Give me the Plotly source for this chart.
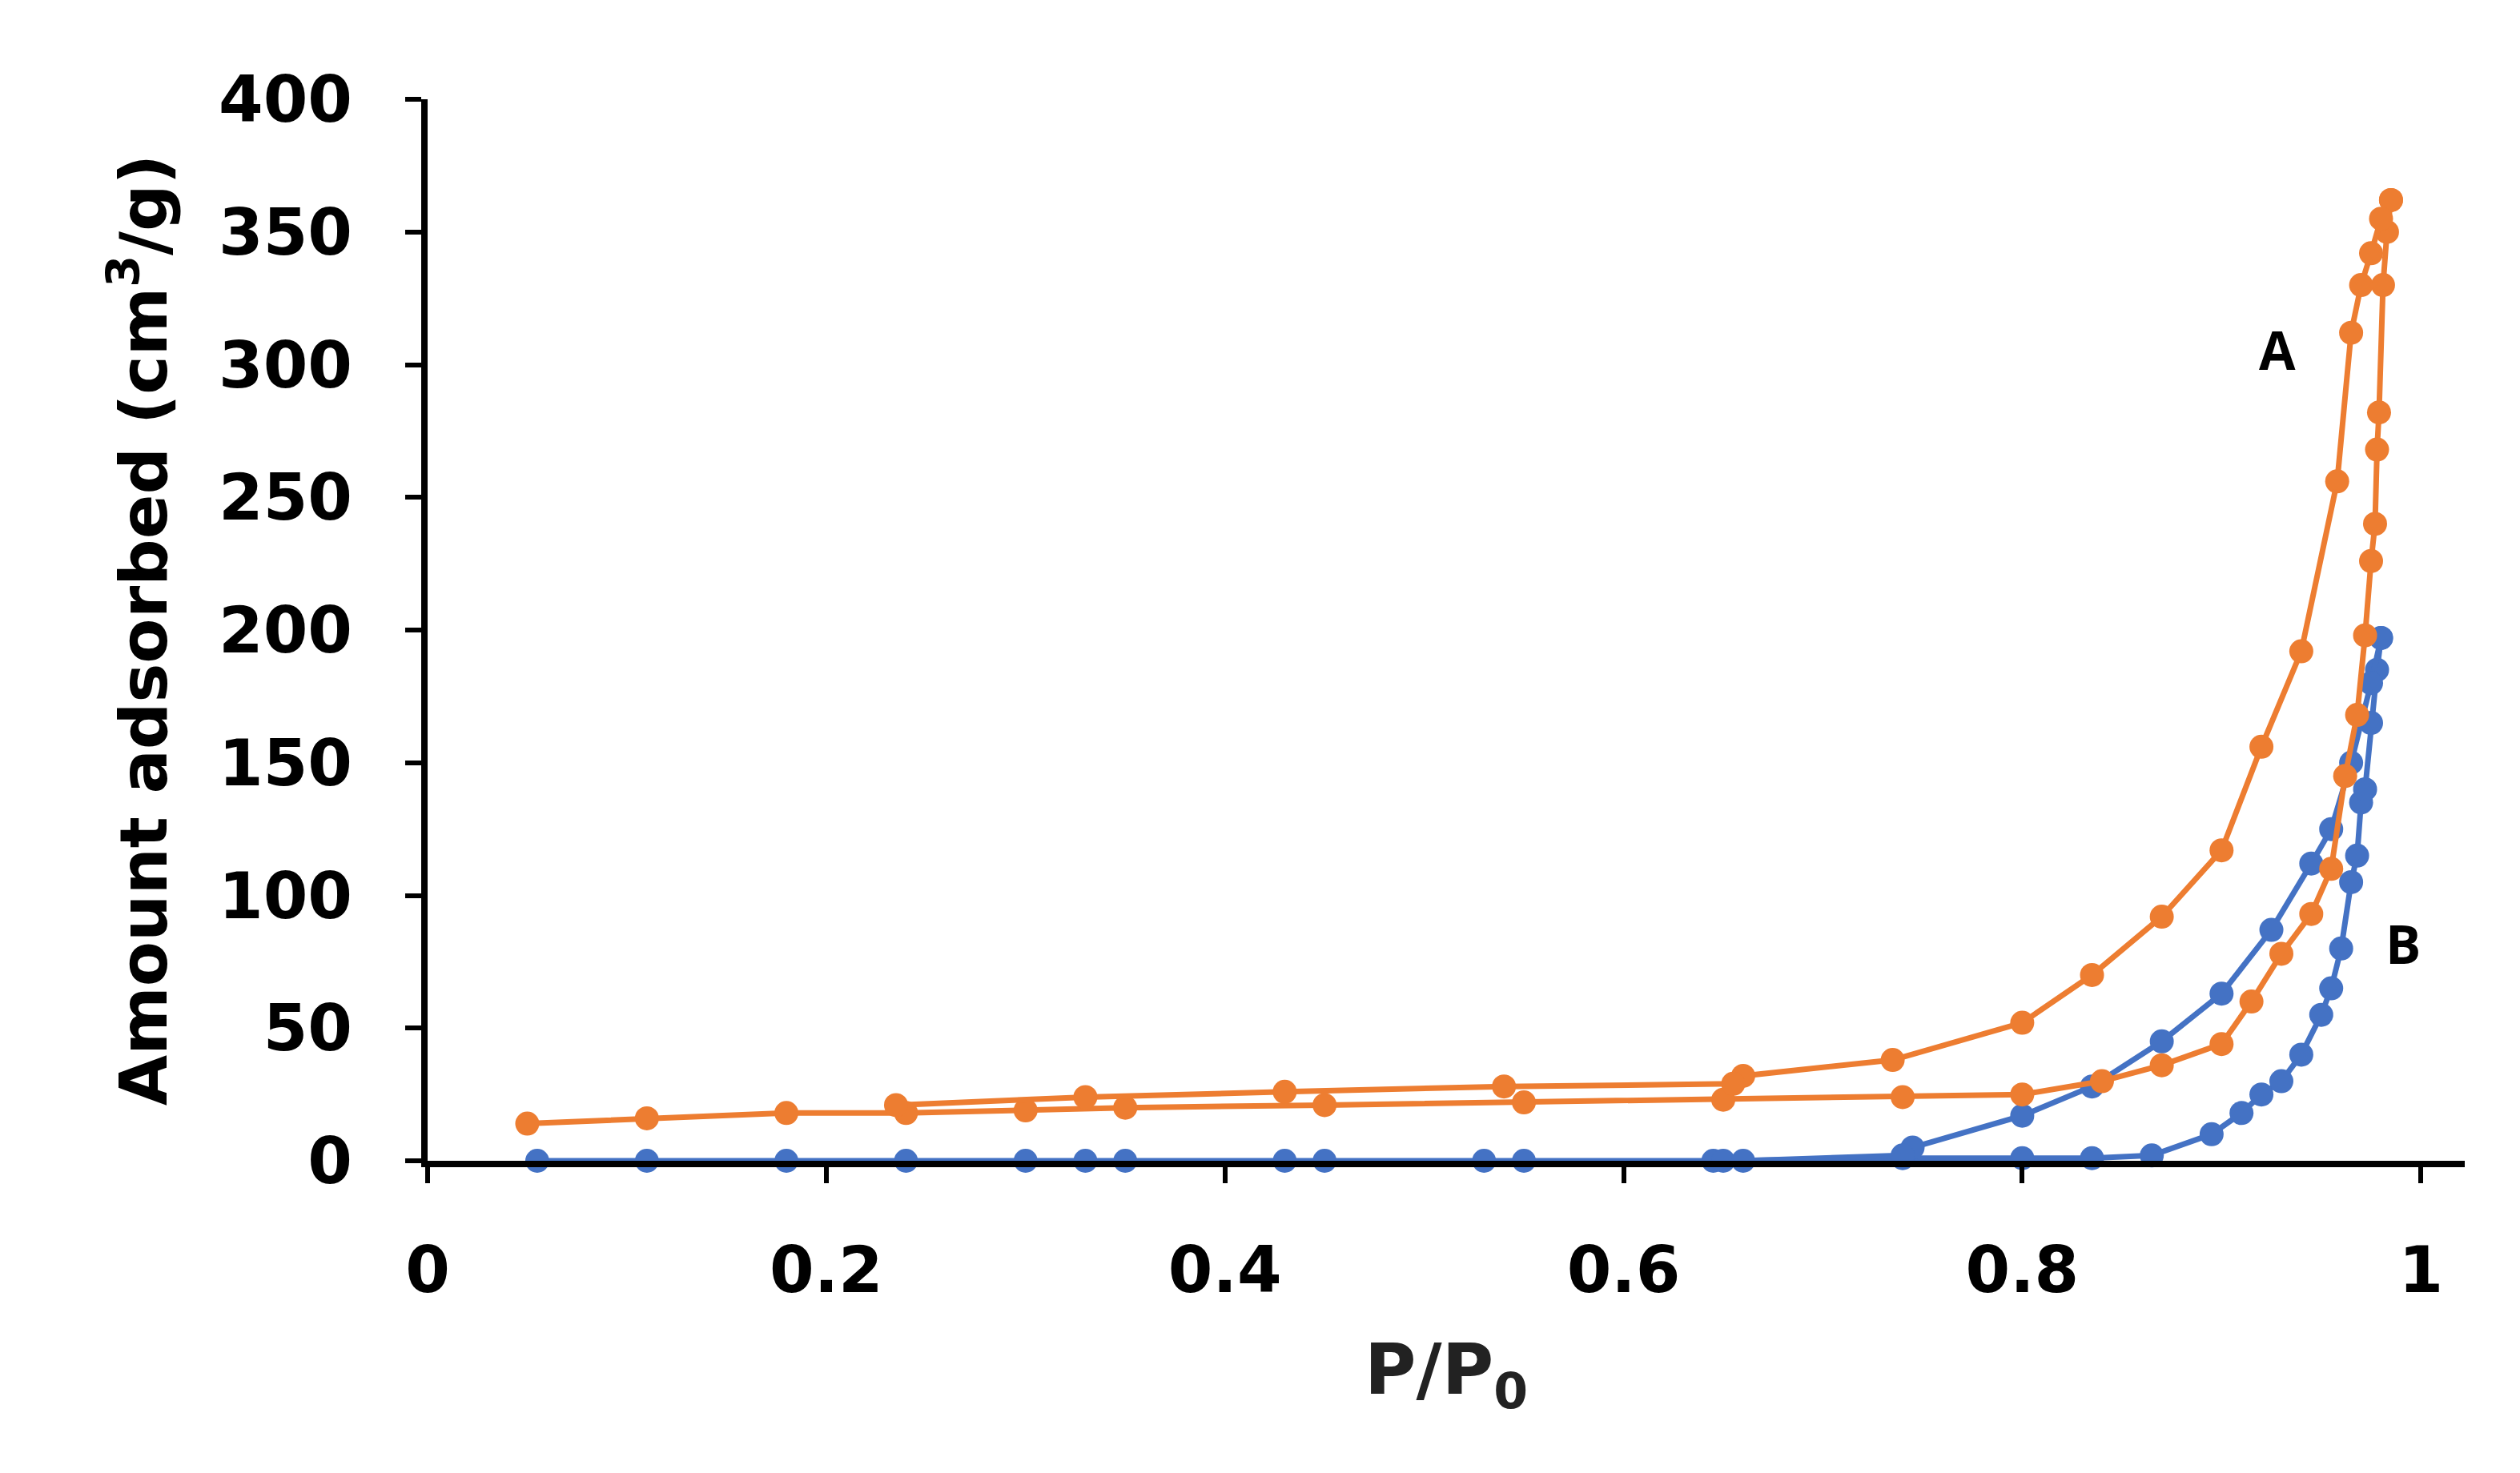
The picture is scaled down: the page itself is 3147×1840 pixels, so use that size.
import plotly.graph_objects as go

a_ads_x = [0.05,0.11,0.18,0.24,0.30,0.35,0.45,0.55,0.65,0.74,0.80,0.84,0.87,0.90,0.915,0.93,0.945,0.955,0.962,0.968,0.972,0.975,0.977,0.978,0.979,0.981,0.983,0.985]
a_ads_y = [14,16,18,18,19,20,21,22,23,24,25,30,36,44,60,78,93,110,145,168,198,226,240,268,282,330,350,362]
a_des_x = [0.985,0.98,0.975,0.97,0.965,0.958,0.94,0.92,0.90,0.87,0.835,0.80,0.735,0.66,0.655,0.54,0.43,0.33,0.235]
a_des_y = [362,355,342,330,312,256,192,156,117,92,70,52,38,32,29,28,26,24,21]
b_ads_x = [0.055,0.11,0.18,0.24,0.30,0.33,0.35,0.43,0.45,0.53,0.55,0.645,0.65,0.74,0.80,0.835,0.865,0.895,0.91,0.92,0.93,0.94,0.95,0.955,0.96,0.965,0.968,0.97,0.972,0.975,0.978,0.98]
b_ads_y = [0,0,0,0,0,0,0,0,0,0,0,0,0,1,1,1,2,10,18,25,30,40,55,65,80,105,115,135,140,165,185,197]
b_des_x = [0.98,0.975,0.965,0.955,0.945,0.925,0.90,0.87,0.835,0.80,0.745,0.74,0.66]
b_des_y = [197,180,150,125,112,87,63,45,28,17,5,2,0]

ORANGE = "#ED7D31"
BLUE = "#4472C4"

fig = go.Figure()
for xs, ys, c in [(b_ads_x, b_ads_y, BLUE), (b_des_x, b_des_y, BLUE),
                  (a_ads_x, a_ads_y, ORANGE), (a_des_x, a_des_y, ORANGE)]:
    fig.add_trace(go.Scatter(x=xs, y=ys, mode="lines+markers", cliponaxis=False,
                             line=dict(color=c, width=7),
                             marker=dict(color=c, size=30, symbol="circle"),
                             showlegend=False))

fig.add_annotation(x=0.928, y=306, text="<b>A</b>", showarrow=False,
                   font=dict(size=66, color="black", family="Open Sans"))
fig.add_annotation(x=0.991, y=82, text="<b>B</b>", showarrow=False,
                   font=dict(size=66, color="black", family="Open Sans"))

axis_common = dict(showgrid=False, zeroline=False, showline=True, linecolor="black",
                   linewidth=8, ticks="outside", ticklen=20, tickwidth=6, tickcolor="black",
                   tickfont=dict(family="DejaVu Sans", size=80, color="black", weight="bold"))
fig.update_xaxes(range=[0, 1.022], tickvals=[0, 0.2, 0.4, 0.6, 0.8, 1],
                 ticktext=["0", "0.2", "0.4", "0.6", "0.8", "1"], ticklabelstandoff=40,
                 title=dict(text="<b>P/P<sub>0</sub></b>", standoff=50,
                            font=dict(family="DejaVu Sans", size=88, color="#222")),
                 **axis_common)
fig.update_yaxes(range=[0, 400], tickvals=list(range(0, 401, 50)), ticklabelstandoff=50,
                 title=dict(text="<b>Amount adsorbed (cm<sup>3</sup>/g)</b>", standoff=40,
                            font=dict(family="DejaVu Sans", size=82, color="black")),
                 **axis_common)
fig.update_layout(width=3147, height=1840, plot_bgcolor="white", paper_bgcolor="white",
                  margin=dict(l=526, r=77, t=116, b=398))
fig.write_html("out.html")
